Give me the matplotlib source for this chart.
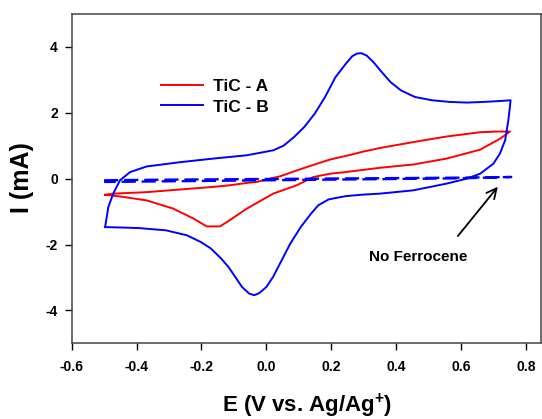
import matplotlib
matplotlib.use("Agg")
import matplotlib.pyplot as plt

plt.rcParams['font.family'] = ['Liberation Sans', 'DejaVu Sans']
plt.rcParams['font.weight'] = 'bold'
plt.rcParams['mathtext.fontset'] = 'custom'
plt.rcParams['mathtext.bf'] = 'Liberation Sans:bold'
plt.rcParams['mathtext.rm'] = 'Liberation Sans:bold'
plt.rcParams['mathtext.default'] = 'bf'

# TiC - B (with ferrocene), one full cycle starting at -0.5 V
blue_E = [-0.497, -0.487, -0.472, -0.451, -0.42, -0.369, -0.266, -0.163, -0.06, 0.021,
          0.053, 0.085, 0.117, 0.149, 0.181, 0.213, 0.245, 0.265, 0.28, 0.293, 0.309,
          0.330, 0.351, 0.383, 0.415, 0.458, 0.511, 0.565, 0.618, 0.671, 0.724, 0.753,
          0.746, 0.736, 0.720, 0.700, 0.659, 0.618, 0.556, 0.453, 0.350, 0.298,
          0.245, 0.192, 0.160, 0.138, 0.106, 0.074, 0.042, 0.021, 0.0, -0.021,
          -0.037, -0.053, -0.075, -0.096, -0.117, -0.139, -0.171, -0.203, -0.245,
          -0.309, -0.394, -0.497]
blue_I = [-1.47, -0.86, -0.455, -0.05, 0.2, 0.37, 0.50, 0.61, 0.71, 0.86,
          1.0, 1.26, 1.57, 1.97, 2.48, 3.08, 3.49, 3.72, 3.80, 3.81, 3.74,
          3.54, 3.29, 2.93, 2.68, 2.48, 2.38, 2.33, 2.31, 2.33, 2.36, 2.38,
          1.77, 1.16, 0.76, 0.455, 0.15, 0.0, -0.15, -0.355, -0.455, -0.485,
          -0.53, -0.63, -0.81, -1.06, -1.47, -1.97, -2.58, -2.98, -3.29, -3.47,
          -3.54, -3.49, -3.29, -2.98, -2.68, -2.43, -2.12, -1.92, -1.72,
          -1.57, -1.50, -1.47]

# TiC - A
red_E = [-0.497, -0.472, -0.369, -0.266, -0.163, -0.112, -0.06, -0.03, 0.011, 0.042,
         0.094, 0.124, 0.196, 0.245, 0.298, 0.350, 0.453, 0.556, 0.659, 0.710, 0.751,
         0.720, 0.659, 0.556, 0.453, 0.350, 0.245, 0.196, 0.145, 0.094, 0.021,
         -0.06, -0.122, -0.143, -0.184, -0.225, -0.287, -0.369, -0.451, -0.497]
red_I = [-0.49, -0.455, -0.41, -0.33, -0.25, -0.2, -0.13, -0.1, 0.0, 0.07,
         0.25, 0.35, 0.58, 0.69, 0.82, 0.93, 1.11, 1.28, 1.41, 1.43, 1.43,
         1.21, 0.88, 0.61, 0.43, 0.33, 0.20, 0.15, 0.05, -0.2, -0.455,
         -0.91, -1.32, -1.45, -1.45, -1.21, -0.91, -0.66, -0.54, -0.49]

# blank (no ferrocene)
blank_E = [-0.5, -0.3, 0.0, 0.3, 0.6, 0.755, 0.6, 0.3, 0.0, -0.3, -0.5]
blank_I = [-0.05, -0.03, -0.01, 0.01, 0.03, 0.05, 0.01, -0.02, -0.05, -0.08, -0.1]

fig = plt.figure(figsize=(5.42, 4.19), dpi=100)
ax = fig.add_axes([71.7 / 542, 1 - 343.3 / 419, (541.3 - 71.7) / 542, (343.3 - 14) / 419])

ax.plot(red_E, red_I, color='#ff0000', lw=1.4, label='TiC - A')
ax.plot(blue_E, blue_I, color='#0000ff', lw=1.4, label='TiC - B')
ax.plot(blank_E, blank_I, color='#0000ff', lw=1.7, dashes=(6, 2.5))

ax.set_xlim(-0.6, 0.8476)
ax.set_ylim(-5, 5)
ax.set_xticks([-0.6, -0.4, -0.2, 0.0, 0.2, 0.4, 0.6, 0.8])
ax.set_xticklabels(['-0.6', '-0.4', '-0.2', '0.0', '0.2', '0.4', '0.6', '0.8'])
ax.set_yticks([-4, -2, 0, 2, 4])
ax.set_yticklabels(['-4', '-2', '0', '2', '4'])
ax.tick_params(axis='x', direction='out', length=5, width=1, pad=7, labelsize=10)
ax.tick_params(axis='y', direction='out', length=5, width=1, pad=5, labelsize=10)
for s in ax.spines.values():
    s.set_color('#444444')
    s.set_linewidth(1.1)

leg = ax.legend(loc='upper left', bbox_to_anchor=(161 / 542, 1 - 79 / 419),
                bbox_transform=fig.transFigure, frameon=False, fontsize=12.5,
                handlelength=2.4, handletextpad=0.6, labelspacing=0.3,
                borderpad=0, borderaxespad=0)

ax.annotate('', xy=(0.719, -0.18), xytext=(0.585, -1.81),
            arrowprops=dict(arrowstyle='->', color='black', lw=1.3, mutation_scale=18))
ax.text(0.4675, -2.39, 'No Ferrocene', ha='center', va='center', fontsize=11)

fig.text(307 / 542, 1 - 406 / 419, r'E (V vs. Ag/Ag$^{+}$)', ha='center', va='center', fontsize=16)
fig.text(22 / 542, 1 - 178 / 419, 'I (mA)', rotation=90, ha='center', va='center', fontsize=18)

fig.savefig('out.png', dpi=100)
